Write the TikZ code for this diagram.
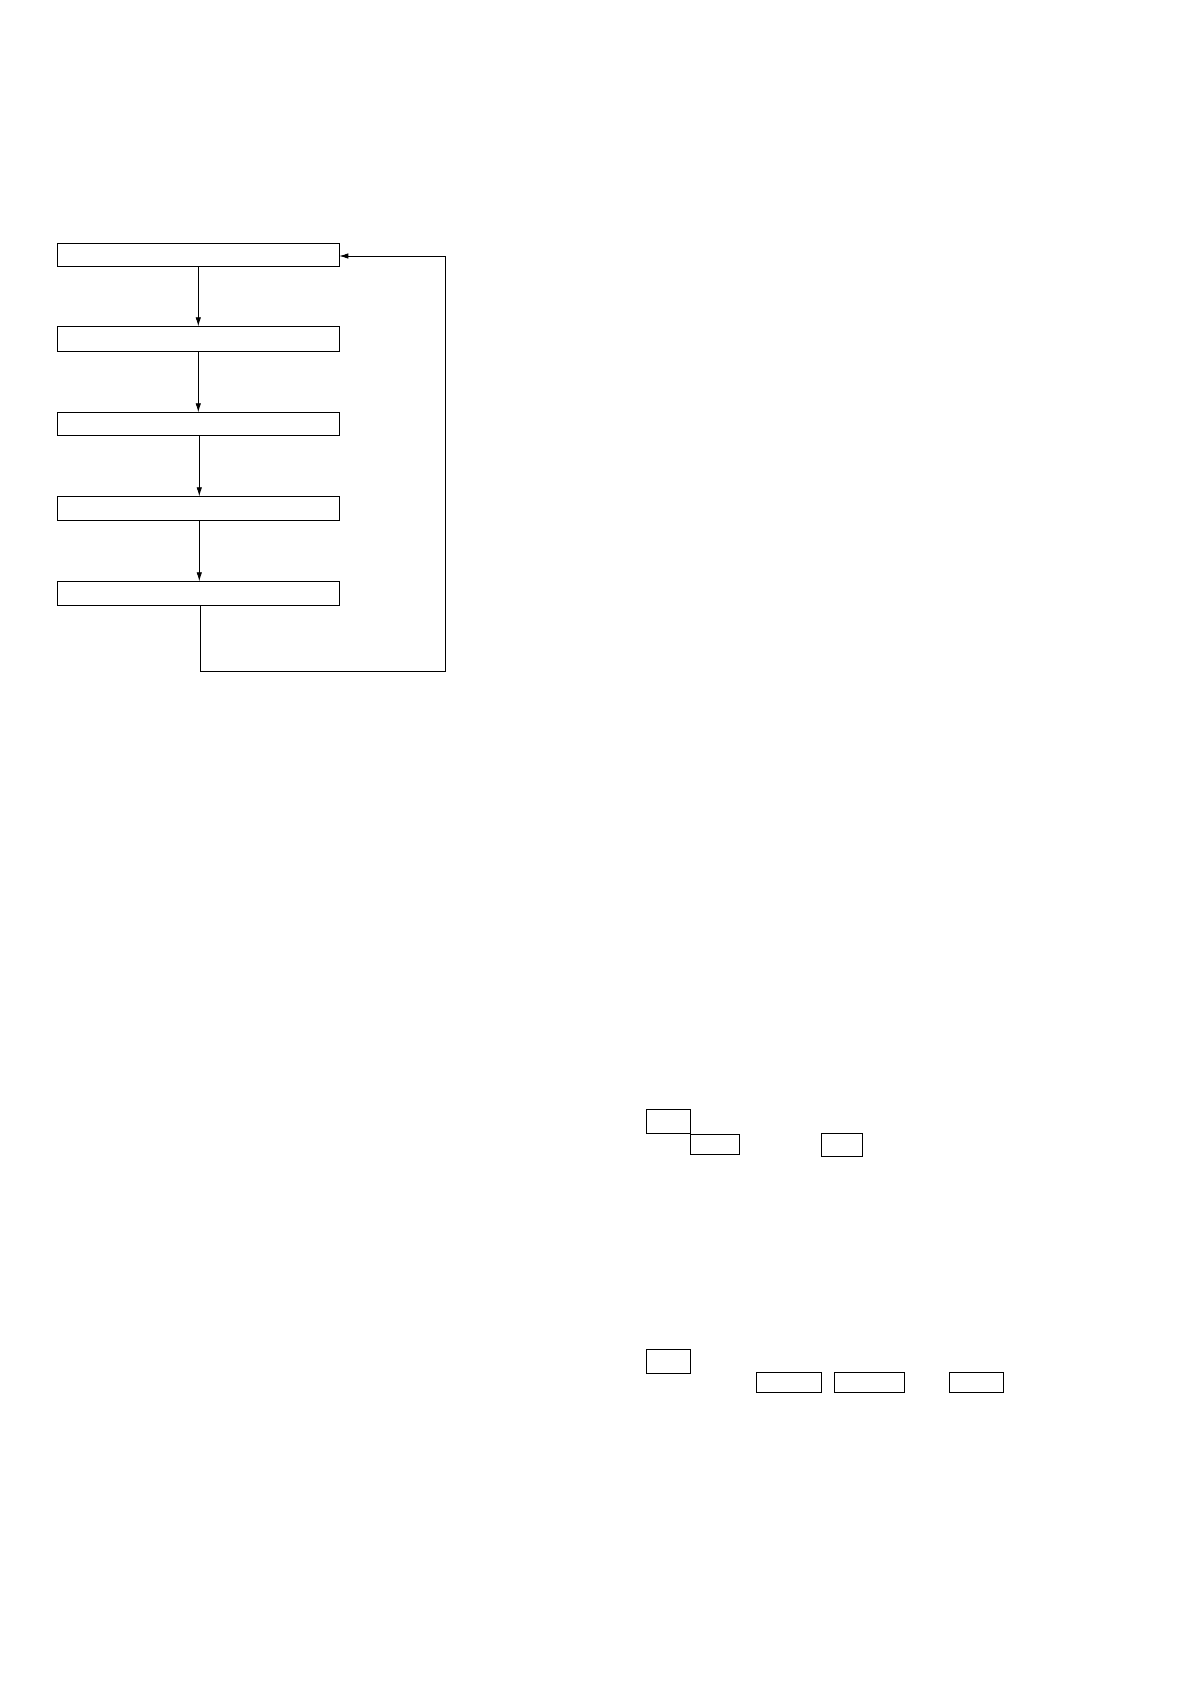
\documentclass[tikz,border=0pt]{standalone}
\usepackage{tikz}
\usetikzlibrary{shapes,arrows,arrows.meta,positioning}
\tikzstyle{block} = [rectangle, draw, line width=0.9pt, inner sep=0pt, outer sep=0pt,
    minimum width=282pt, minimum height=23pt]
\tikzstyle{tag} = [rectangle, draw, line width=0.9pt, inner sep=0pt, outer sep=0pt,
    minimum height=20pt]
\tikzstyle{line} = [draw, line width=0.8pt, -{Latex[length=9pt,width=5.5pt]}]
\begin{document}
\begin{tikzpicture}[x=1pt, y=-1pt]
      \useasboundingbox (0,0) rectangle (1190,1684);
      \node [block] (first) at (198.3,254.8) {};
      \node [block, minimum height=25pt] (second) at (198.3,338.8) {};
      \node [block] (third) at (198.3,423.8) {};
      \node [block, minimum height=24pt] (fourth) at (198.3,508.3) {};
      \node [block, minimum height=24pt] (fifth) at (198.3,593.3) {};
      \coordinate (turn) at (445.3,671);

      \path [line] (first) -- (second);
      \path [line] (second) -- (third);
      \path [line] ([xshift=1pt]third.south) -- ([xshift=1pt]fourth.north);
      \path [line] ([xshift=1pt]fourth.south) -- ([xshift=1pt]fifth.north);
      \path [line] ([xshift=2pt]fifth.south) |- (turn) |- ([yshift=-1.2pt]first.east);

      \node [tag, minimum width=44pt, minimum height=24pt] (upa) at (668.3,1121.3) {};
      \node [tag, minimum width=49pt] (upb) at (714.8,1144.2) {};
      \node [tag, minimum width=41pt, minimum height=23pt] (upc) at (841.8,1144.8) {};

      \node [tag, minimum width=44pt, minimum height=24pt] (lowa) at (668.3,1361.2) {};
      \node [tag, minimum width=65pt] (lowb) at (788.8,1382.3) {};
      \node [tag, minimum width=70pt] (lowc) at (869.3,1382.3) {};
      \node [tag, minimum width=54pt] (lowd) at (976.3,1382.3) {};
   \end{tikzpicture}
\end{document}
